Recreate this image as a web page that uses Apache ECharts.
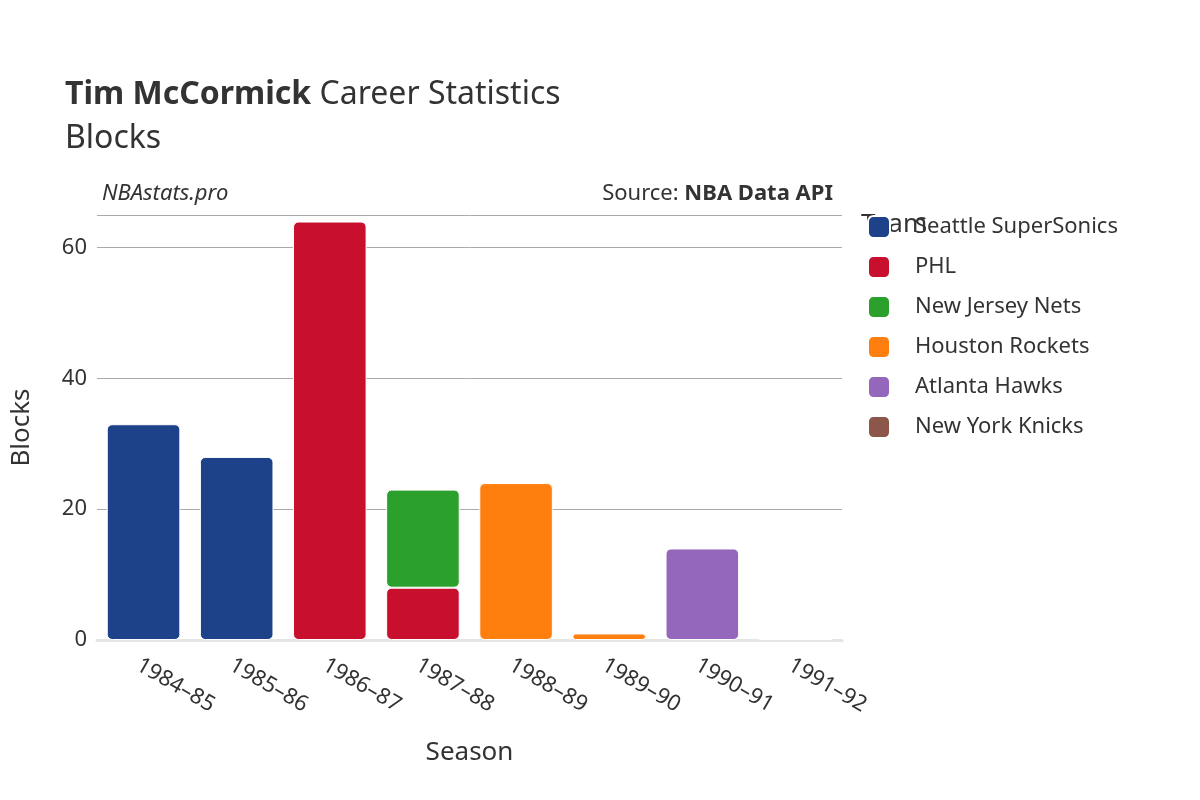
<!DOCTYPE html>
<html><head><meta charset="utf-8">
<script src="https://cdn.jsdelivr.net/npm/echarts@6/dist/echarts.min.js"></script>
<style>html,body{margin:0;padding:0;background:#fff}#c{width:1200px;height:800px}</style>
</head><body><div id="c"></div>
<script>
const seasons = ["1984–85","1985–86","1986–87","1987–88","1988–89","1989–90","1990–91","1991–92"];
const teams = ["Seattle SuperSonics","PHL","New Jersey Nets","Houston Rockets","Atlanta Hawks","New York Knicks"];
const colors = ["#1d4289","#c8102e","#2ca02c","#ff7f0e","#9467bd","#8c564b"];
const sonics = [33,28,null,null,null,null,null,null];
const phl = [null,null,64,8,null,null,null,null];
const nets = [null,null,null,15,null,null,null,null];
const rockets = [null,null,null,null,24,1,null,null];
const hawks = [null,null,null,null,null,null,14,null];
const knicks = [null,null,null,null,null,null,null,0.2];
const values = [sonics,phl,nets,rockets,hawks,knicks];
const font = "Noto Sans, DejaVu Sans, sans-serif";
const chart = echarts.init(document.getElementById('c'));
chart.setOption({
  animation:false,
  title:[
    {text:"{b|Tim McCormick} Career Statistics\nBlocks",left:60,top:68,textStyle:{fontFamily:font,fontSize:32,color:"#333",fontWeight:"normal",lineHeight:44,rich:{b:{fontFamily:font,fontSize:32,fontWeight:"bold",color:"#333"}}}},
    {text:"NBAstats.pro",left:97,top:178,textStyle:{fontFamily:font,fontSize:22,fontStyle:"italic",fontWeight:"normal",color:"#333"}},
    {text:"Source: {b|NBA Data API}",right:362,top:178,textStyle:{fontFamily:font,fontSize:22,fontWeight:"normal",color:"#333",rich:{b:{fontFamily:font,fontSize:22,fontWeight:"bold",color:"#333"}}}}
  ],
  legend:{orient:"vertical",left:862,top:210,itemWidth:22,itemHeight:22,itemGap:16,icon:"roundRect",
    data:teams,textStyle:{fontFamily:font,fontSize:22,color:"#333",padding:[0,0,0,20]},
    title:{}},
  graphic:[{type:"text",left:861,top:212,style:{text:"Team",font:"26px "+font,fill:"#333"}}],
  grid:{left:97,right:358,top:215,bottom:160},
  xAxis:{type:"category",data:seasons,name:"Season",nameLocation:"middle",nameGap:100,
    nameTextStyle:{fontFamily:font,fontSize:26,color:"#333"},
    axisLine:{show:true,lineStyle:{color:"#e5e5e5",width:3}},axisTick:{show:false},
    axisLabel:{rotate:-30,fontFamily:font,fontSize:22,color:"#333",margin:14,align:"left",verticalAlign:"top"}},
  yAxis:{type:"value",min:0,max:65,interval:20,name:"Blocks",nameLocation:"middle",nameGap:62,
    nameTextStyle:{fontFamily:font,fontSize:26,color:"#333"},
    axisLabel:{fontFamily:font,fontSize:22,color:"#333",showMaxLabel:false,margin:10},
    splitLine:{lineStyle:{color:"#aaa",width:1}},axisLine:{show:false},axisTick:{show:false}},
  series:teams.map((t,i)=>({name:t,type:"bar",stack:"s",data:values[i],barWidth:"79%",
    itemStyle:{color:colors[i],borderRadius:5,borderColor:"#fff",borderWidth:1}}))
});
</script></body></html>
